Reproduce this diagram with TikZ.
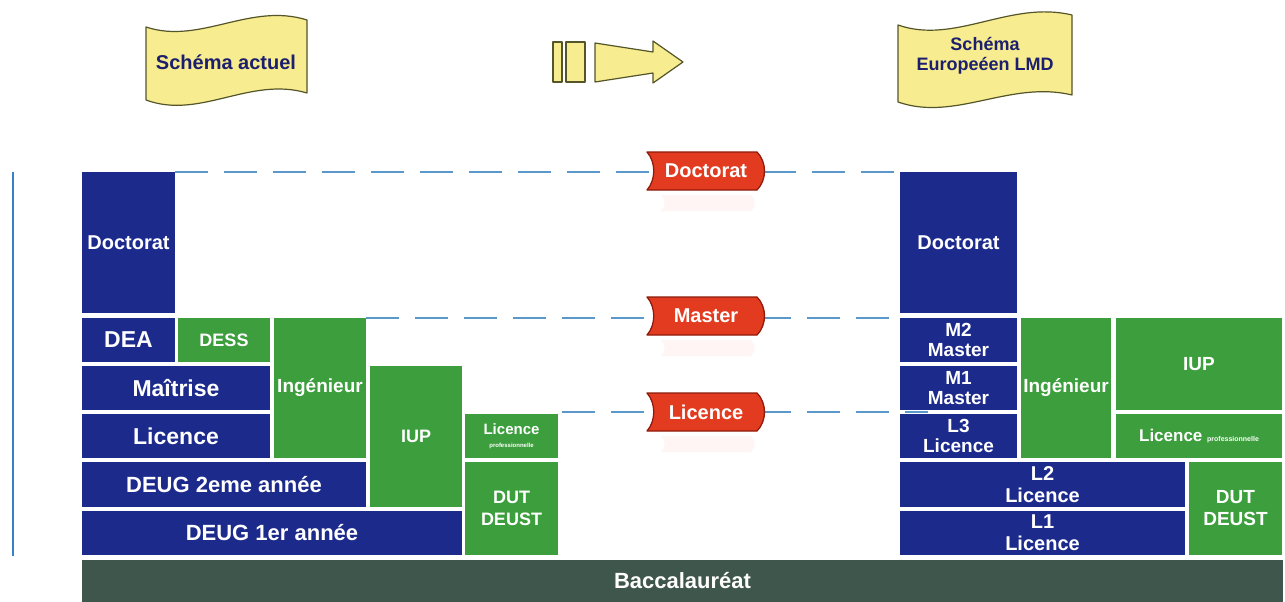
\documentclass[tikz,border=0pt]{standalone}
\usepackage{fontspec}
\setmainfont{Liberation Sans}
\usetikzlibrary{calc}
\definecolor{navy}{HTML}{1C2A8C}
\definecolor{grn}{HTML}{3C9E3C}
\definecolor{bacc}{HTML}{3E564C}
\definecolor{ylw}{HTML}{F7EC8F}
\definecolor{ylwd}{HTML}{55552A}
\definecolor{ink}{HTML}{1B1F6E}
\definecolor{dashc}{HTML}{5A98CC}
\definecolor{bred}{HTML}{E33B1F}
\definecolor{bredd}{HTML}{8E1B0C}
\definecolor{vline}{HTML}{3A80C8}
\newcommand\fsz[2]{\fontsize{#1}{#2}\selectfont}
\newcommand\mkbox[7]{%
  \node[#1, minimum width={#5-#3}, minimum height={#6-#4}] (#2) at ({(#3+#5)/2},{(#4+#6)/2}) {#7};}
\tikzset{
  bl/.style={fill=navy, text=white, inner sep=0pt, align=center, font=\bfseries},
  gr/.style={fill=grn, text=white, inner sep=0pt, align=center, font=\bfseries},
  bac/.style={fill=bacc, text=white, inner sep=0pt, font=\bfseries\fsz{22}{24}},
  dline/.style={draw=dashc, line width=2pt, dash pattern=on 33pt off 16pt},
  banner/.style={fill=ylw, draw=ylwd, line width=1.2pt, line join=round},
  btext/.style={text=ink, font=\bfseries, align=center, inner sep=0pt},
  badgetext/.style={text=white, font=\bfseries\fsz{20}{22}, inner sep=0pt},
  pics/badge/.style={code={
    \fill[bred!5] (-45,24) -- (45,24) .. controls (50,29) and (50,35) .. (45,40) -- (-45,40) .. controls (-40,35) and (-40,29) .. (-45,24) -- cycle;
    \filldraw[fill=bred, draw=bredd, line width=1.3pt, line join=round]
      (-59,-19) -- (51,-19) .. controls (61,-9) and (61,9) .. (51,19)
      -- (-59,19) .. controls (-50,9) and (-50,-9) .. (-59,-19) -- cycle;
  }}
}
\begin{document}
\begin{tikzpicture}[x=1pt,y=-1pt]
\useasboundingbox[fill=white] (0,0) rectangle (1285,602);

% vertical line
\draw[vline, line width=2pt] (13,172) -- (13,556);

% banners
\filldraw[banner] (146,27) .. controls (200,45) and (250,2) .. (307,20)
  -- (307,93) .. controls (250,76) and (200,120) .. (146,100) -- cycle;
\node[btext, font=\bfseries\fsz{20}{22}] (actuel) at (226,62) {Schéma actuel};

\filldraw[banner] (898,25) .. controls (955,45) and (1010,0) .. (1072,15)
  -- (1072,95) .. controls (1010,80) and (955,122) .. (898,102) -- cycle;
\node[btext, font=\bfseries\fsz{18}{20}] (lmd) at (985,56) {Schéma\\Europeéen LMD};

% arrow
\filldraw[banner] (553,42) rectangle (562,82);
\filldraw[banner] (566,42) rectangle (585,82);
\filldraw[banner] (595,43) -- (653,52) -- (653,41) -- (683,62) -- (653,83) -- (653,73) -- (595,82) -- cycle;

% left column
\mkbox{bl,font=\bfseries\fsz{20}{22}}{ldoc}{82}{172}{175}{313}{Doctorat}
\mkbox{bl,font=\bfseries\fsz{23}{25}}{dea}{82}{318}{175}{362}{DEA}
\mkbox{gr,font=\bfseries\fsz{18}{20}}{dess}{178}{318}{270}{362}{DESS}
\mkbox{gr,font=\bfseries\fsz{19}{21}}{ing}{274}{318}{366}{458}{Ingénieur}
\mkbox{bl,font=\bfseries\fsz{23}{25}}{mait}{82}{366}{270}{410}{Maîtrise}
\mkbox{bl,font=\bfseries\fsz{23}{25}}{lic}{82}{414}{270}{458}{Licence}
\mkbox{gr,font=\bfseries\fsz{18}{20}}{iup}{370}{366}{462}{507}{IUP}
\mkbox{gr,font=\bfseries\fsz{15}{15}}{lpro}{465}{414}{558}{458}{Licence\\[-2pt]{\fsz{6}{7}professionnelle}}
\mkbox{bl,font=\bfseries\fsz{22}{24}}{deugb}{82}{462}{366}{507}{DEUG 2eme année}
\mkbox{bl,font=\bfseries\fsz{22}{24}}{deuga}{82}{511}{462}{555}{DEUG 1er année}
\mkbox{gr,font=\bfseries\fsz{18}{22}}{dut}{465}{462}{558}{555}{DUT\\DEUST}

% right column
\mkbox{bl,font=\bfseries\fsz{20}{22}}{rdoc}{900}{172}{1017}{313}{Doctorat}
\mkbox{bl,font=\bfseries\fsz{19}{20}}{mtwo}{900}{318}{1017}{362}{M2\\Master}
\mkbox{bl,font=\bfseries\fsz{19}{20}}{mone}{900}{366}{1017}{410}{M1\\Master}
\mkbox{bl,font=\bfseries\fsz{19}{20}}{lthree}{900}{414}{1017}{458}{L3\\Licence}
\mkbox{gr,font=\bfseries\fsz{19}{21}}{ring}{1021}{318}{1111}{458}{Ingénieur}
\mkbox{gr,font=\bfseries\fsz{19}{21}}{riup}{1116}{318}{1282}{410}{IUP}
\mkbox{gr,font=\bfseries\fsz{17}{19}}{rlpro}{1116}{414}{1282}{458}{Licence {\fsz{7}{8}professionnelle}}
\mkbox{bl,font=\bfseries\fsz{20}{22}}{ltwo}{900}{462}{1185}{507}{L2\\Licence}
\mkbox{bl,font=\bfseries\fsz{20}{22}}{lone}{900}{511}{1185}{555}{L1\\Licence}
\mkbox{gr,font=\bfseries\fsz{19}{22}}{rdut}{1189}{462}{1282}{555}{DUT\\DEUST}

% baccalaureat
\mkbox{bac}{bacn}{82}{560}{1283}{602}{Baccalauréat}

% dashed level lines
\coordinate (licL) at (562,412);
\coordinate (licR) at (928,412);
\draw[dline] (ldoc.north east) -- (rdoc.north west);
\draw[dline] (ing.north east) -- (mtwo.north west);
\draw[dline] (licL) -- (licR);

% badges
\pic at (706,171) {badge};
\node[badgetext] (bdoc) at (706,171) {Doctorat};
\pic at (706,316) {badge};
\node[badgetext] (bmas) at (706,316) {Master};
\pic at (706,412) {badge};
\node[badgetext] (blic) at (706,412) {Licence};
\end{tikzpicture}
\end{document}
